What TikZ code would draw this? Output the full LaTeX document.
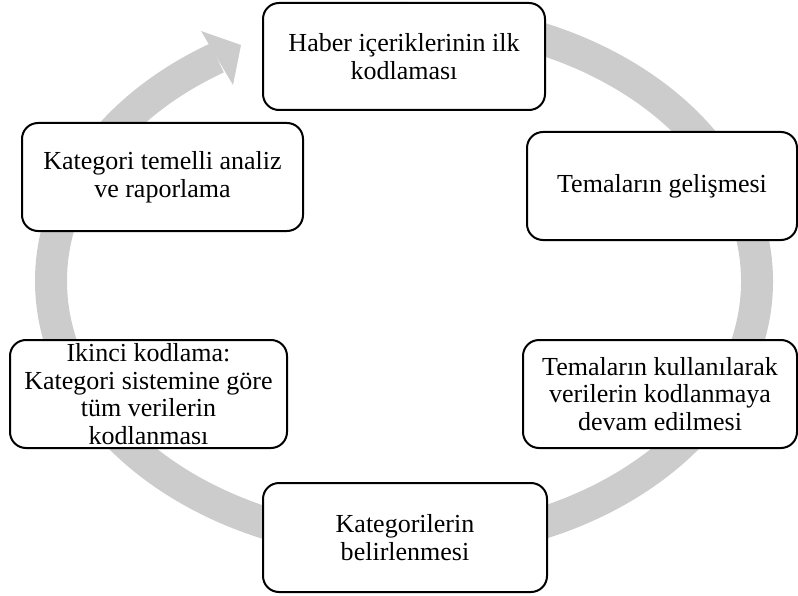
\documentclass[tikz,border=0pt]{standalone}
\usepackage{fontspec}
\setmainfont{Liberation Serif}
\definecolor{ringgray}{RGB}{204,204,204}
\tikzset{every picture/.style={line width=0.75pt}}
\tikzset{stagebox/.style={draw, fill=white, line width=1.5pt, rounded corners=12pt, align=center, inner sep=2pt, font=\fontsize{19.5pt}{20.8pt}\selectfont}}

\begin{document}
\begin{tikzpicture}[x=0.75pt,y=0.75pt,yscale=-1,xscale=1]
\useasboundingbox (0,0) rectangle (798,595);

%Shape: Circular Arrow [id:ring]
\coordinate (ringc) at (404,281);
\draw [ringgray, line width=24pt] ([shift={(265:353 and 263)}]ringc) arc [start angle=265, end angle=598, x radius=353, y radius=263];
\fill [ringgray] (201,31) -- (241,45) -- (233,85) -- cycle;

% Text Node
\node [stagebox, minimum width=211.5pt, minimum height=80.25pt] (ilkkod) at (404,56.5) {Haber içeriklerinin ilk\\kodlaması};
% Text Node
\node [stagebox, minimum width=202.5pt, minimum height=81pt] (tema) at (662,186) {Temaların gelişmesi};
% Text Node
\node [stagebox, minimum width=205.5pt, minimum height=81pt] (devam) at (660,394) {Temaların kullanılarak\\verilerin kodlanmaya\\devam edilmesi};
% Text Node
\node [stagebox, minimum width=213pt, minimum height=81.75pt] (kategori) at (405,537.5) {Kategorilerin\\belirlenmesi};
% Text Node
\node [stagebox, minimum width=207.75pt, minimum height=81pt] (ikinci) at (148.5,394) {Ikinci kodlama:\\Kategori sistemine göre\\tüm verilerin\\kodlanması};
% Text Node
\node [stagebox, minimum width=210.75pt, minimum height=81pt] (analiz) at (162.5,177) {Kategori temelli analiz\\ve raporlama};

\end{tikzpicture}
\end{document}
